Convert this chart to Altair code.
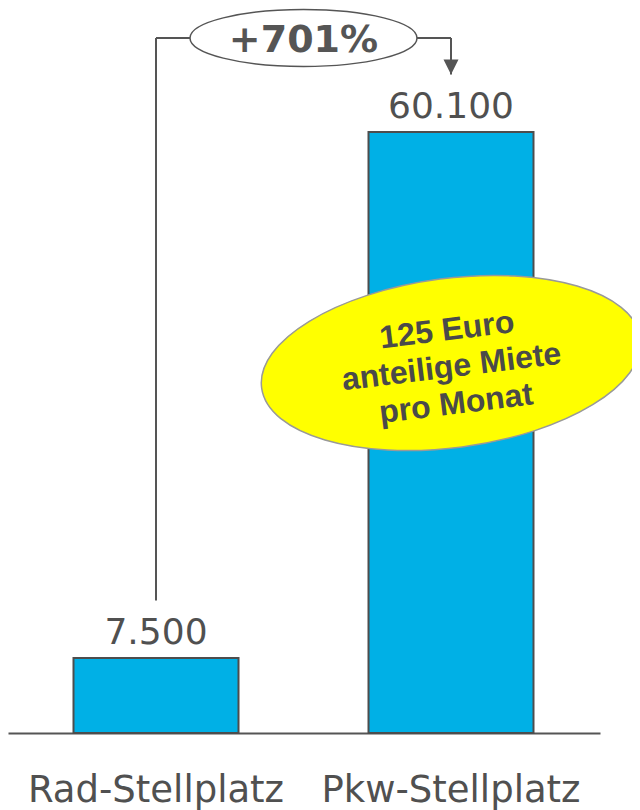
import altair as alt
import pandas as pd

# ---- data -------------------------------------------------------------
categories = ["Rad-Stellplatz", "Pkw-Stellplatz"]
values = [7500, 60100]
growth_label = "+701%"
note_lines = ["125 Euro", "anteilige Miete", "pro Monat"]

# annotation anchors (data units)
BRACKET_Y = 69500
GAP = 5750
NOTE_Y = 37000

X_DOMAIN = [-0.5017, 1.5051]
Y_DOMAIN = [0, 72500]

idx = list(range(len(categories)))
bar_df = pd.DataFrame({"idx": idx, "cat": categories, "value": values})
bracket_df = pd.DataFrame({
    "x0": [idx[0]], "x1": [idx[1]], "mid": [(idx[0] + idx[1]) / 2],
    "top": [BRACKET_Y],
    "left_low": [values[0] + GAP], "right_low": [values[1] + GAP],
    "label": [growth_label],
})
note_df = pd.DataFrame({"x": [idx[1]], "y": [NOTE_Y], "note": ["\n".join(note_lines)]})

GRAY = "#555555"
TEXT = "#505050"


def ellipse_path(ry):
    k = 0.5523
    return (f"M -1 0 C -1 {-k*ry:.4f} {-k:.4f} {-ry:.4f} 0 {-ry:.4f} "
            f"C {k:.4f} {-ry:.4f} 1 {-k*ry:.4f} 1 0 "
            f"C 1 {k*ry:.4f} {k:.4f} {ry:.4f} 0 {ry:.4f} "
            f"C {-k:.4f} {ry:.4f} -1 {k*ry:.4f} -1 0 Z")


X_AXIS = alt.Axis(domain=True, domainColor=GRAY, domainWidth=2, ticks=False,
                  labels=False, grid=False, title=None)


def X(f):
    return alt.X(f"{f}:Q",
                 scale=alt.Scale(domain=X_DOMAIN, nice=False, zero=False, padding=0),
                 axis=X_AXIS)


def Y(f):
    return alt.Y(f"{f}:Q", scale=alt.Scale(domain=Y_DOMAIN, nice=False, padding=0), axis=None)


bars = alt.Chart(bar_df).mark_bar(
    size=165, color="#00B0E6", stroke="#4D4D4D", strokeWidth=2
).encode(x=X("idx"), y=Y("value"))

value_labels = alt.Chart(bar_df).transform_calculate(
    label="replace(format(datum.value, ','), ',', '.')"
).mark_text(
    font="DejaVu Sans", fontSize=36, color=TEXT, dy=-14, baseline="alphabetic"
).encode(x=X("idx"), y=Y("value"), text="label:N")

cat_labels = alt.Chart(bar_df).transform_calculate(base="0").mark_text(
    font="DejaVu Sans", fontSize=37, color=TEXT, dy=69, baseline="alphabetic"
).encode(x=X("idx"), y=Y("base"), text="cat:N")

bracket = alt.Chart(bracket_df)
left_line = bracket.mark_rule(color=GRAY, strokeWidth=2).encode(
    x=X("x0"), y=Y("left_low"), y2="top")
top_line = bracket.mark_rule(color=GRAY, strokeWidth=2).encode(
    x=X("x0"), x2="x1", y=Y("top"))
right_line = bracket.mark_rule(color=GRAY, strokeWidth=2).encode(
    x=X("x1"), y=Y("top"), y2="right_low")
arrow = bracket.mark_point(
    shape="M -1 -2 L 1 -2 L 0 0 Z", size=225, filled=True, color=GRAY,
    opacity=1, strokeWidth=0
).encode(x=X("x1"), y=Y("right_low"))
growth_ellipse = bracket.mark_point(
    shape=ellipse_path(0.251), size=227 ** 2, fill="white", stroke=GRAY,
    strokeWidth=1.5, opacity=1, fillOpacity=1
).encode(x=X("mid"), y=Y("top"))
growth_text = bracket.mark_text(
    font="DejaVu Sans", fontWeight="bold", fontSize=38, color=GRAY,
    dy=14, baseline="alphabetic"
).encode(x=X("mid"), y=Y("top"), text="label:N")

note = alt.Chart(note_df)
note_ellipse = note.mark_point(
    shape=ellipse_path(0.443), size=382 ** 2, angle=352.5, fill="#FFFF00",
    stroke="#999999", strokeWidth=1.5, opacity=1, fillOpacity=1
).encode(x=X("x"), y=Y("y"))
note_text = note.mark_text(
    font="Liberation Sans", fontWeight="bold", fontSize=32, color="#4A4A4A",
    angle=353, lineBreak="\n", lineHeight=37, align="center", baseline="middle", dy=-33
).encode(x=X("x"), y=Y("y"), text="note:N")

chart = alt.layer(
    bars, value_labels, cat_labels, left_line, top_line, right_line, arrow,
    growth_ellipse, growth_text, note_ellipse, note_text
).properties(
    width=592, height=725,
    padding={"left": 0, "top": 0, "right": 32, "bottom": 77},
    autosize=alt.AutoSizeParams(type="none"),
    background="white",
).configure_view(stroke=None)

chart.save("out.html", embed_options={"renderer": "svg", "actions": False})
